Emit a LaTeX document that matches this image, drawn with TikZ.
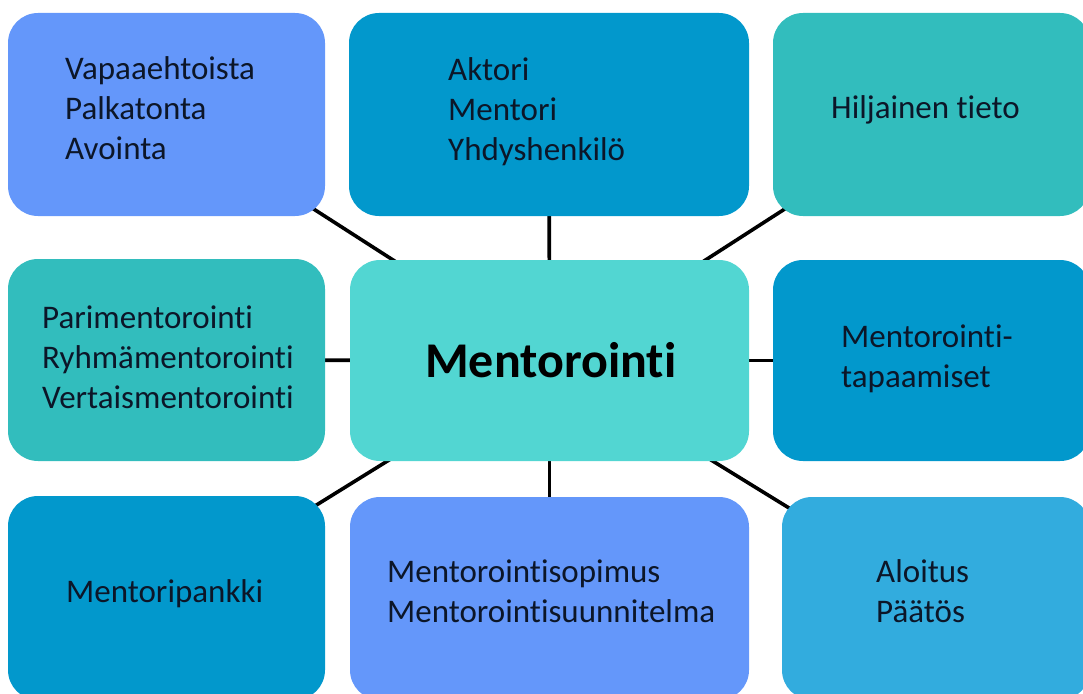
\documentclass[tikz,border=0pt]{standalone}
\usepackage{fontspec}
\setmainfont{Carlito}[Ligatures=NoCommon]
\usetikzlibrary{backgrounds}
\definecolor{periwinkle}{RGB}{100,151,250}
\definecolor{ocean}{RGB}{2,152,204}
\definecolor{teal}{RGB}{50,189,189}
\definecolor{aqua}{RGB}{82,214,210}
\definecolor{sky}{RGB}{50,172,222}
\definecolor{ink}{RGB}{12,22,40}
\begin{document}
\begin{tikzpicture}[x=1pt,y=-1pt,
  tile/.style={draw=none, rounded corners=30pt, inner sep=0pt},
  wide/.style={minimum width=400pt},
  narrow/.style={minimum width=317pt},
  txt/.style={anchor=base west, align=left, inner sep=0pt, text=ink,
    font=\fontsize{33}{39.6}\selectfont},
  link/.style={draw=black, line width=3.6pt}]
\useasboundingbox (0,0) rectangle (1083,693);
\clip (0,0) rectangle (1083,693);

% boxes: top row
\node[tile, narrow, minimum height=203pt, fill=periwinkle] (b1) at (166.5,114.5) {};
\node[tile, wide,   minimum height=203pt, fill=ocean]      (b2) at (549,114.5) {};
\node[tile, narrow, minimum height=203pt, fill=teal]       (b3) at (931.5,114.5) {};
% middle row
\node[tile, narrow, minimum height=202pt, fill=teal]       (b4) at (166.5,360) {};
\node[tile, minimum width=399pt, minimum height=201pt, fill=aqua] (c) at (549.5,360.5) {};
\node[tile, narrow, minimum height=201pt, fill=ocean]      (b6) at (931.5,360.5) {};
% bottom row
\node[tile, narrow, minimum height=204pt, fill=ocean]      (b7) at (166.5,598) {};
\node[tile, minimum width=399pt, minimum height=203pt, fill=periwinkle] (b8) at (549.5,598.5) {};
\node[tile, minimum width=308pt, minimum height=203pt, fill=sky] (b9) at (936,598.5) {};

% connectors behind the boxes
\begin{scope}[on background layer]
  \foreach \n in {b1,b2,b3,b4,b6,b7,b8,b9}
    \draw[link] (c.center) -- (\n.center);
\end{scope}

% texts (anchored at the baseline of their last line)
\node[txt] (t1) at (65,159) {Vapaaehtoista\\Palkatonta\\Avointa};
\node[txt] (t2) at (448,160) {Aktori\\Mentori\\Yhdyshenkilö};
\node[txt] (t3) at (831,118) {Hiljainen tieto};
\node[txt] (t4) at (42,408) {Parimentorointi\\Ryhmämentorointi\\Vertaismentorointi};
\node[txt, font=\bfseries\fontsize{50}{60}\selectfont, text=black] (tc) at (425,377) {Mentorointi};
\node[txt] (t6) at (841,387) {Mentorointi-\\tapaamiset};
\node[txt] (t7) at (66,602) {Mentoripankki};
\node[txt] (t8) at (387,622) {Mentorointisopimus\\Mentorointisuunnitelma};
\node[txt] (t9) at (876,622) {Aloitus\\Päätös};
\end{tikzpicture}
\end{document}
